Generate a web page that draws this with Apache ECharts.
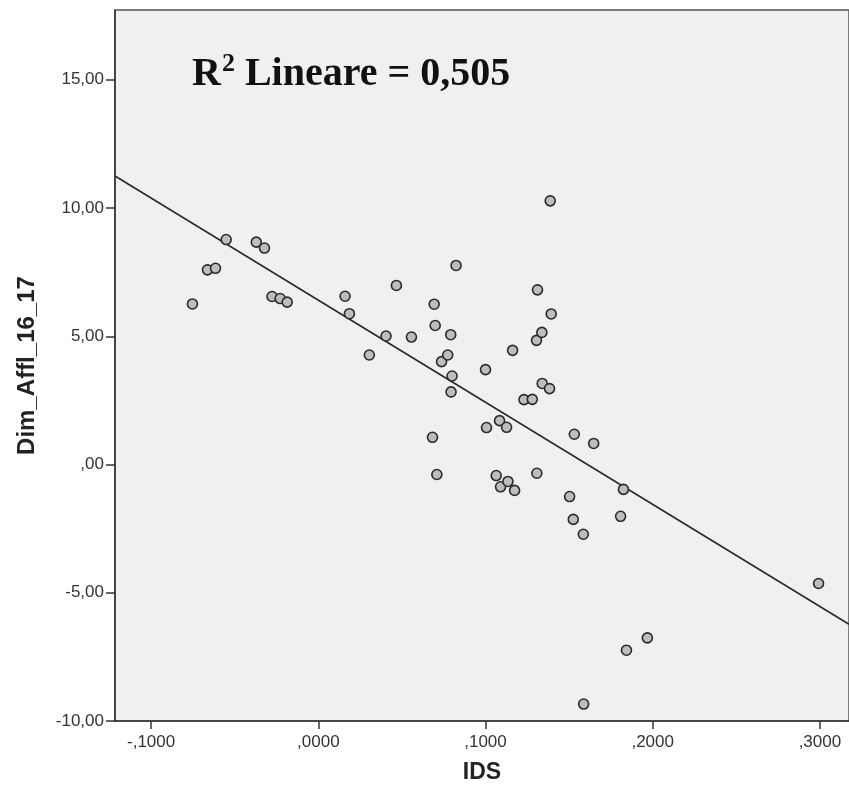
<!DOCTYPE html>
<html>
<head>
<meta charset="utf-8">
<script src="https://cdn.jsdelivr.net/npm/echarts@6/dist/echarts.min.js"></script>
<style>html,body{margin:0;padding:0;background:#fff}#c{width:849px;height:793px}</style>
</head>
<body>
<div id="c"></div>
<script>
// Data
var idsValues = [-0.0753,-0.0663,-0.0615,-0.0551,-0.0371,-0.0322,-0.0277,-0.0228,-0.0186,0.0160,
  0.0186,0.0305,0.0405,0.0467,0.0557,0.0693,0.0699,0.0683,0.0709,0.0737,
  0.0774,0.0792,0.0800,0.0794,0.0824,0.1000,0.1006,0.1064,0.1084,0.1090,
  0.1126,0.1134,0.1174,0.1162,0.1230,0.1280,0.1307,0.1311,0.1305,0.1337,
  0.1339,0.1383,0.1387,0.1393,0.1503,0.1525,0.1531,0.1585,0.1587,0.1647,
  0.1808,0.1825,0.1843,0.1968,0.2992];
var dimValues = [6.26,7.59,7.65,8.77,8.67,8.44,6.55,6.47,6.33,6.56,
  5.88,4.27,5.01,6.98,4.97,6.25,5.42,1.06,-0.39,4.01,
  4.27,5.06,3.45,2.83,7.76,3.70,1.44,-0.43,1.71,-0.87,
  1.45,-0.66,-1.01,4.45,2.53,2.54,-0.34,6.81,4.84,5.15,
  3.16,2.96,10.28,5.87,-1.25,-2.14,1.18,-2.72,-9.34,0.82,
  -2.02,-0.97,-7.24,-6.76,-4.64];
var fitLineX = [-0.1216, 0.3174];
var fitLineY = [11.25, -6.23];
var xTickValues = [-0.1, 0, 0.1, 0.2, 0.3];
var yTickValues = [-10, -5, 0, 5, 10, 15];
var xName = 'IDS';
var yName = 'Dim_Affl_16_17';
var r2Text = '0,505';

var pts = idsValues.map(function(x,i){return [x, dimValues[i]];});
var linePts = fitLineX.map(function(x,i){return [x, fitLineY[i]];});

function fmtX(v){
  var s = Math.abs(v).toFixed(4).replace('0.', ',');
  return (v < -1e-9 ? '-' : '') + s;
}
function fmtY(v){
  var s = Math.abs(v).toFixed(2).replace('.', ',');
  if (s.indexOf('0,') === 0) s = s.substring(1);
  return (v < -1e-9 ? '-' : '') + s;
}

var chart = echarts.init(document.getElementById('c'), null, {renderer:'canvas'});
chart.setOption({
  animation: false,
  backgroundColor: '#ffffff',
  grid: {left: 115, top: 10, right: -4, bottom: 72, show: true,
    backgroundColor: '#f0f0f0', borderColor: '#555', borderWidth: 1.5},
  xAxis: {
    type: 'value', min: fitLineX[0], max: fitLineX[1],
    name: xName, nameLocation: 'middle', nameGap: 40,
    nameTextStyle: {fontFamily: 'Liberation Sans', fontWeight: 'bold', fontSize: 23, color: '#222'},
    splitLine: {show: false},
    axisLine: {show: true, onZero: false, lineStyle: {color: '#333', width: 1.5}},
    axisTick: {show: true, length: 8, customValues: xTickValues, lineStyle: {color: '#333', width: 1.5}},
    axisLabel: {customValues: xTickValues, formatter: fmtX, margin: 13,
      fontFamily: 'Liberation Sans', fontSize: 17, color: '#333'}
  },
  yAxis: {
    type: 'value', min: -10, max: 17.72, interval: 5,
    name: yName, nameLocation: 'middle', nameGap: 76, nameRotate: 90,
    nameTextStyle: {fontFamily: 'Liberation Sans', fontWeight: 'bold', fontSize: 24, color: '#222'},
    splitLine: {show: false},
    axisLine: {show: true, onZero: false, lineStyle: {color: '#333', width: 1.5}},
    axisTick: {show: true, length: 9, customValues: yTickValues, lineStyle: {color: '#333', width: 1.5}},
    axisLabel: {customValues: yTickValues, formatter: fmtY, margin: 11,
      fontFamily: 'Liberation Sans', fontSize: 17, color: '#333'}
  },
  series: [
    {type: 'line', data: linePts, symbol: 'none', silent: true,
      lineStyle: {color: '#2a2a2a', width: 1.6}, z: 2},
    {type: 'scatter', data: pts, symbol: 'circle', symbolSize: 10,
      itemStyle: {color: '#bdbdbd', borderColor: '#2a2a2a', borderWidth: 1.6, opacity: 1}, z: 3}
  ],
  graphic: [{
    type: 'text', left: 192, top: 51, z: 10,
    style: {
      text: '{a|R}{b|2}{a| Lineare = ' + r2Text + '}',
      rich: {
        a: {fontFamily: 'Liberation Serif', fontWeight: 'bold', fontSize: 40, fill: '#111', lineHeight: 44, verticalAlign: 'bottom'},
        b: {fontFamily: 'Liberation Serif', fontWeight: 'bold', fontSize: 26, fill: '#111', lineHeight: 26, verticalAlign: 'top', padding: [0,0,0,1]}
      }
    }
  }]
});
</script>
</body>
</html>
